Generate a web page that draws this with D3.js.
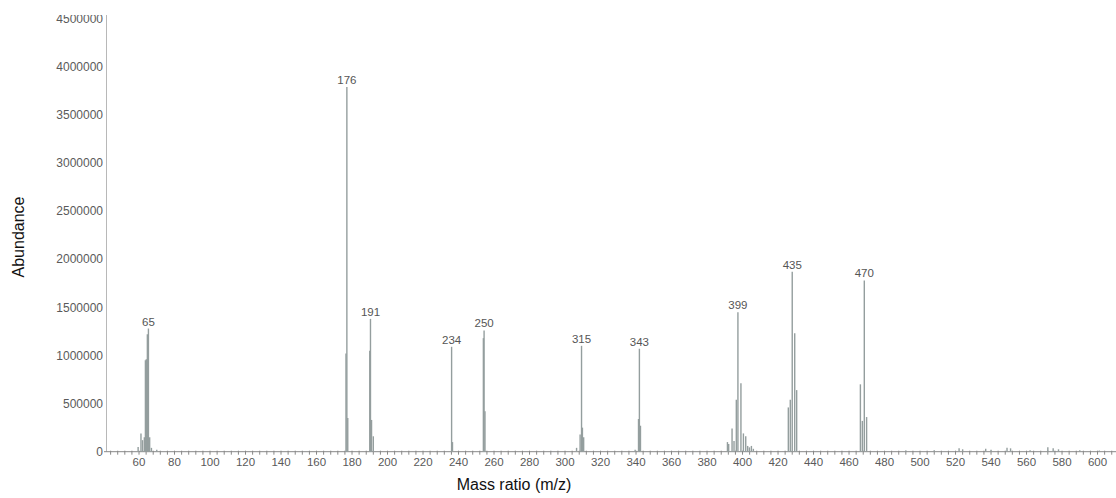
<!DOCTYPE html>
<html lang="en">
<meta charset="utf-8">
<head>
    <script src="https://d3js.org/d3.v7.min.js"></script>
    <style>
        body { margin: 0; background: #fff; }
        svg { display: block; font-family: "Liberation Sans", Arial, sans-serif; }
    </style>
</head>
<body>
<script>
// m/z positions of every line
const mz = [
    59.5, 61.1, 62.0, 63.0, 63.6, 64.1, 64.7, 65.3, 66.0, 67.0, 70.0,
    176.6, 177.1, 177.6,
    190.0, 190.4, 191.0, 192.0,
    236.1, 236.6,
    254.0, 254.4, 254.9,
    306.5, 308.5, 309.3, 309.8, 310.5,
    339.5, 341.4, 341.9, 342.5,
    391.5, 392.2, 394.1, 395.2, 396.5, 397.4, 399.1, 400.5, 401.8, 402.9, 403.9, 405.0, 406.1,
    425.8, 426.9, 428.0, 429.4, 430.5,
    466.4, 467.5, 468.6, 469.9,
    492, 508, 522, 524, 537, 540, 549, 551, 562, 572, 575, 578, 590, 601
];
// abundance of each line
const abundance = [
    50000, 190000, 120000, 150000, 950000, 960000, 1220000, 1280000, 150000, 40000, 20000,
    1020000, 3790000, 350000,
    1050000, 1380000, 330000, 160000,
    1090000, 100000,
    1180000, 1260000, 420000,
    40000, 180000, 1100000, 250000, 150000,
    20000, 340000, 1070000, 270000,
    100000, 80000, 240000, 110000, 540000, 1450000, 710000, 190000, 160000, 60000, 45000, 60000, 30000,
    460000, 540000, 1870000, 1230000, 640000,
    700000, 320000, 1780000, 360000,
    12000, 15000, 35000, 25000, 30000, 20000, 40000, 35000, 15000, 45000, 35000, 25000, 15000, 12000
];

// annotated peaks: printed label and the line it sits on
const peakText = ["65", "176", "191", "234", "250", "315", "343", "399", "435", "470"];
const peakPos = [65.3, 177.1, 190.4, 236.1, 254.4, 309.3, 341.9, 397.4, 428.0, 468.6];

const xTicks = d3.range(60, 601, 20);
const yTicks = d3.range(0, 4500001, 500000);

const W = 1116, H = 498;

const svg = d3.select("body").append("svg")
    .attr("width", W)
    .attr("height", H);

const x = d3.scaleLinear().domain([41.4, 610.4]).range([106, 1116]);
const y = d3.scaleLinear().domain([0, 4500000]).range([451.7, 18.6]);

// scan is cropped at the top
svg.append("clipPath").attr("id", "crop")
    .append("rect").attr("x", 0).attr("y", 15).attr("width", W).attr("height", H - 15);

const g = svg.append("g").attr("clip-path", "url(#crop)");

// Y axis
g.append("line")
    .attr("x1", 106.5).attr("x2", 106.5)
    .attr("y1", 15).attr("y2", y(0))
    .attr("stroke", "#b8b8b8").attr("stroke-width", 1);

g.selectAll(".ylab")
    .data(yTicks)
    .enter().append("text")
    .attr("class", "ylab")
    .attr("x", 103)
    .attr("y", d => y(d))
    .attr("dy", "0.35em")
    .attr("text-anchor", "end")
    .attr("font-size", 12)
    .attr("fill", "#5a5a5a")
    .text(d => d);

// X axis with minor ticks
const xAxis = g.append("g").attr("transform", "translate(0," + y(0) + ")");
xAxis.append("line")
    .attr("x1", 104).attr("x2", W)
    .attr("stroke", "#888").attr("stroke-width", 1);
xAxis.selectAll(".minor")
    .data(d3.range(44, 611, 4))
    .enter().append("line")
    .attr("x1", d => x(d)).attr("x2", d => x(d))
    .attr("y1", -1).attr("y2", 3)
    .attr("stroke", "#888").attr("stroke-width", 1);
xAxis.selectAll(".xlab")
    .data(xTicks)
    .enter().append("text")
    .attr("x", d => x(d))
    .attr("y", 14)
    .attr("text-anchor", "middle")
    .attr("font-size", 11.5)
    .attr("fill", "#5a5a5a")
    .text(d => d);

// spectrum lines
const lines = mz.map((d, i) => ({mz: d, v: abundance[i]}));
g.selectAll(".peak")
    .data(lines)
    .enter().append("line")
    .attr("class", "peak")
    .attr("x1", d => x(d.mz)).attr("x2", d => x(d.mz))
    .attr("y1", y(0)).attr("y2", d => y(d.v))
    .attr("stroke", "#949e9e")
    .attr("stroke-width", 1.4);

// peak labels
g.selectAll(".plab")
    .data(peakText)
    .enter().append("text")
    .attr("class", "plab")
    .attr("x", (d, i) => x(peakPos[i]))
    .attr("y", (d, i) => y(abundance[mz.indexOf(peakPos[i])]) - 3)
    .attr("text-anchor", "middle")
    .attr("font-size", 11.5)
    .attr("fill", "#555")
    .text(d => d);

// axis titles
svg.append("text")
    .attr("x", 514)
    .attr("y", 490)
    .attr("text-anchor", "middle")
    .attr("font-size", 16)
    .attr("fill", "#111")
    .text("Mass ratio (m/z)");

svg.append("text")
    .attr("transform", "translate(24,237) rotate(-90)")
    .attr("text-anchor", "middle")
    .attr("font-size", 16)
    .attr("fill", "#111")
    .text("Abundance");
</script>
</body>
</html>
